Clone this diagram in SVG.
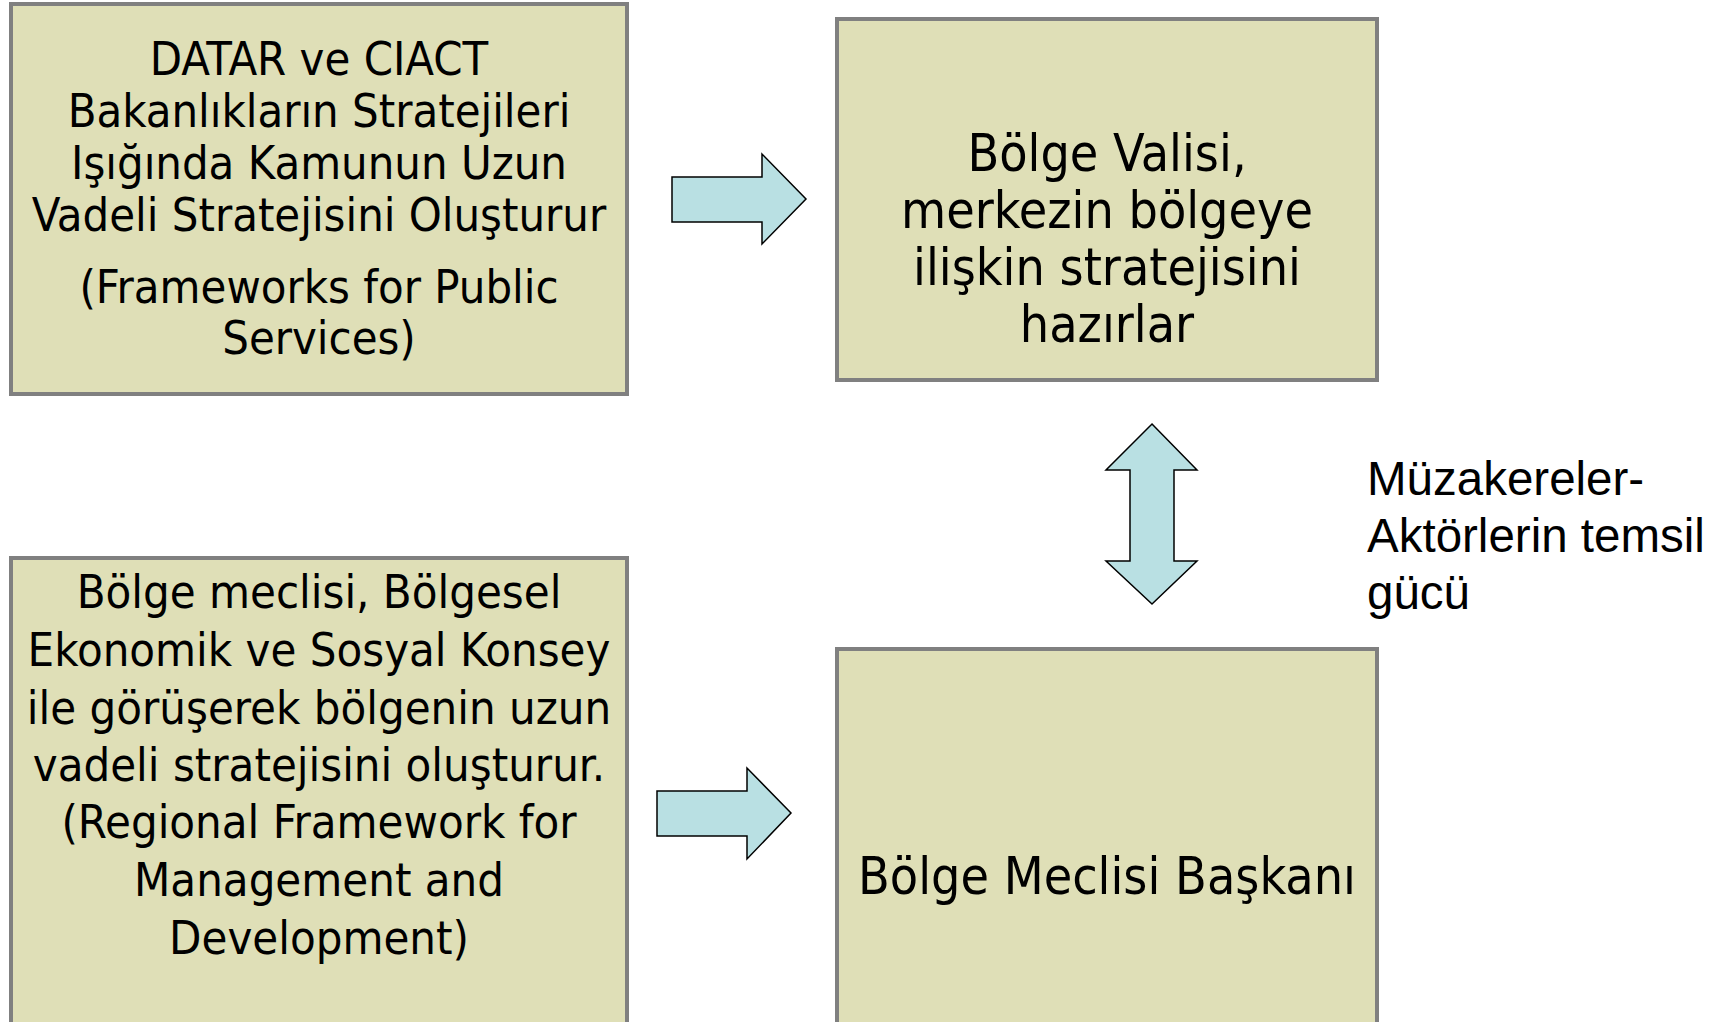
<svg xmlns="http://www.w3.org/2000/svg" width="1725" height="1022" viewBox="0 0 1725 1022">
<style>
.box{fill:#DFDFB7;stroke:#808080;stroke-width:4}
.t{font-family:"DejaVu Sans Condensed","DejaVu Sans",sans-serif;fill:#000;text-anchor:middle}
.s1{font-size:46.7px}
.s2{font-size:51.5px}
.s3{font-size:46.8px}
.arr{fill:#B9E0E3;stroke:#000;stroke-width:1.5;stroke-linejoin:miter}
.lbl{font-family:"Liberation Sans",Arial,sans-serif;font-size:47.5px;fill:#000}
</style>
<rect width="1725" height="1022" fill="#fff"/>
<g id="node1">
<rect class="box" x="11" y="4" width="616" height="390"/>
<text class="t s1"><tspan x="319" y="75">DATAR ve CIACT</tspan><tspan x="319" y="127">Bakanlıkların Stratejileri</tspan><tspan x="319" y="179">Işığında Kamunun Uzun</tspan><tspan x="319" y="231">Vadeli Stratejisini Oluşturur</tspan><tspan x="319" y="303">(Frameworks for Public</tspan><tspan x="319" y="354">Services)</tspan></text>
</g>
<g id="node2">
<rect class="box" x="837" y="19" width="540" height="361"/>
<text class="t s2"><tspan x="1107" y="171">Bölge Valisi,</tspan><tspan x="1107" y="228">merkezin bölgeye</tspan><tspan x="1107" y="285">ilişkin stratejisini</tspan><tspan x="1107" y="342">hazırlar</tspan></text>
</g>
<g id="node3">
<rect class="box" x="11" y="558" width="616" height="480"/>
<text class="t s3"><tspan x="319" y="608">Bölge meclisi, Bölgesel</tspan><tspan x="319" y="666">Ekonomik ve Sosyal Konsey</tspan><tspan x="319" y="724">ile görüşerek bölgenin uzun</tspan><tspan x="319" y="781">vadeli stratejisini oluşturur.</tspan><tspan x="319" y="838">(Regional Framework for</tspan><tspan x="319" y="896">Management and</tspan><tspan x="319" y="954">Development)</tspan></text>
</g>
<g id="node4">
<rect class="box" x="837" y="649" width="540" height="390"/>
<text class="t s2" x="1107" y="894">Bölge Meclisi Başkanı</text>
</g>
<g id="label">
<text class="lbl"><tspan x="1367" y="495">Müzakereler-</tspan><tspan x="1367" y="552">Aktörlerin temsil</tspan><tspan x="1367" y="609">gücü</tspan></text>
</g>
<g id="connectors">
<polygon class="arr" points="672,177 762,177 762,154 806,199 762,244 762,222 672,222"/>
<polygon class="arr" points="657,791 747,791 747,768 791,813 747,859 747,836 657,836"/>
<polygon class="arr" points="1152,424 1197,470 1174,470 1174,561 1197,561 1152,604 1106,561 1130,561 1130,470 1106,470"/>
</g>
</svg>
